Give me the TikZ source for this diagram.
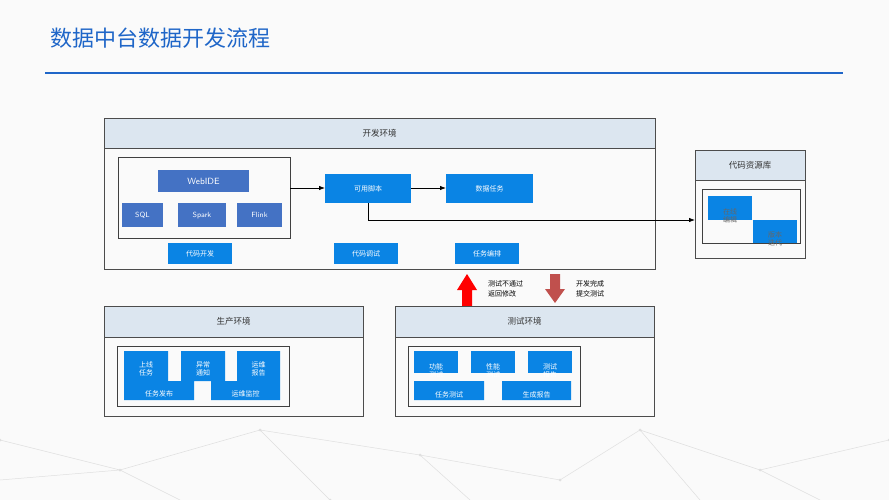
\documentclass[tikz,border=0pt]{standalone}
\usepackage{fontspec}
\newfontfamily\cjk{Noto Sans CJK SC}
\usetikzlibrary{arrows.meta}
\definecolor{titleblue}{RGB}{31,102,200}
\definecolor{headfill}{RGB}{220,230,240}
\definecolor{boxblue}{RGB}{10,132,228}
\definecolor{ideblue}{RGB}{68,114,196}
\definecolor{downred}{RGB}{192,80,77}
\tikzset{
  panel/.style={draw=black!70,fill=white!96!gray,line width=0.8pt},
  head/.style={draw=black!70,fill=headfill,line width=0.8pt},
  inner/.style={draw=black!75,line width=0.9pt},
  blk/.style={fill=boxblue,draw=none},
  txt/.style={font=\cjk\fontsize{7}{8}\selectfont,text=white,align=center,inner sep=0pt},
  htxt/.style={font=\cjk\fontsize{8.5}{10}\selectfont,text=black!80,inner sep=0pt},
  net/.style={gray!25,line width=0.5pt}
}
\begin{document}
\begin{tikzpicture}[x=1pt,y=-1pt]
\useasboundingbox (0,0) rectangle (889,500);
\fill[gray!4] (0,0) rectangle (889,500);
% faint background network
\foreach \a/\b in {0/440,120/470,260/430,330/500,420/455,560/480,640/430,760/470,889/440}
  \fill[gray!25] (\a,\b) circle (1.5);
\draw[net] (0,440) -- (120,470) -- (260,430) -- (330,500) (260,430) -- (420,455) -- (560,480) -- (640,430) -- (760,470) -- (889,440)
  (120,470) -- (180,500) (420,455) -- (470,500) (640,430) -- (700,500) (760,470) -- (820,500) (0,480) -- (120,470);

% title
\node[anchor=west,text=titleblue,font=\cjk\fontsize{22}{26}\selectfont,inner sep=0pt] (title) at (50,38) {数据中台数据开发流程};
\draw[titleblue,line width=2.5pt] (45,73) -- (843,73);

% development environment
\draw[panel] (104,118) rectangle (655,269);
\draw[head] (104,118) rectangle (655,148);
\node[htxt] (devh) at (379.5,133) {开发环境};
\draw[inner] (118,157) rectangle (290,238);
\fill[ideblue] (158,170) rectangle (249,192);
\node[txt,font=\fontsize{9}{10}\sffamily] (ide) at (203.5,181) {WebIDE};
\foreach \x/\w/\t in {122/41/SQL,178/48/Spark,237/45/Flink}{
  \fill[ideblue] (\x,203) rectangle ++(\w,24);
  \node[txt,font=\fontsize{7.5}{9}\sffamily,text depth=0pt] at (\x+\w/2,215) {\t};
}
\coordinate (ideright) at (290,188);
\fill[blk] (325,174) rectangle (411,203);
\node[txt] (script) at (368,188.5) {可用脚本};
\fill[blk] (446,174) rectangle (533,203);
\node[txt] (task) at (489.5,188.5) {数据任务};
\foreach \x/\t in {168/代码开发,334/代码调试,455/任务编排}{
  \fill[blk] (\x,243) rectangle ++(64,21);
  \node[txt] at (\x+32,253.5) {\t};
}
\coordinate (scriptl) at (325,188);
\coordinate (scriptr) at (411,188);
\coordinate (taskl) at (446,188);
\coordinate (scriptb) at (368,203);
\draw[-{Latex[length=6pt]},line width=0.8pt] (ideright) -- (scriptl);
\draw[-{Latex[length=6pt]},line width=0.8pt] (scriptr) -- (taskl);

% code repository
\draw[panel] (695,150) rectangle (805,258);
\draw[head] (695,150) rectangle (805,180);
\node[htxt] (repoh) at (750,165) {代码资源库};
\draw[inner] (702,189) rectangle (800,243);
\coordinate (repol) at (695,220);
\draw[-{Latex[length=6pt]},line width=0.8pt] (scriptb) |- (repol);
\fill[blk] (708,196) rectangle (752,220);
\node[txt,text=black!60] (edit) at (730,216) {在线\\编辑};
\fill[blk] (753,220) rectangle (797,243);
\node[txt,text=black!60] (ver) at (775,239) {版本\\迭代};

% test/development arrows
\fill[red] (462,306) -- (462,290) -- (457,290) -- (467,274) -- (477,290) -- (472,290) -- (472,306) -- cycle;
\fill[downred] (550,274) -- (560,274) -- (560,289) -- (565,289) -- (555,303) -- (545,289) -- (550,289) -- cycle;
\node[anchor=west,font=\cjk\fontsize{7}{10}\selectfont,align=left,inner sep=0pt] (back) at (488,289) {测试不通过\\返回修改};
\node[anchor=west,font=\cjk\fontsize{7}{10}\selectfont,align=left,inner sep=0pt] (submit) at (576,289) {开发完成\\提交测试};

% production environment
\draw[panel] (104,306) rectangle (363,416);
\draw[head] (104,306) rectangle (363,337);
\node[htxt] (prodh) at (233.5,321.5) {生产环境};
\draw[inner] (117,346) rectangle (289,406);
\fill[blk] (124,351) rectangle (168,381) (181,351) rectangle (225,381) (237,351) rectangle (280,381)
  (124,381) rectangle (194,400) (211,381) rectangle (280,400);
\node[txt] (online) at (146,369) {上线\\任务};
\node[txt] (alarm) at (203,369) {异常\\通知};
\node[txt] (report) at (258.5,369) {运维\\报告};
\node[txt] (publish) at (159,394) {任务发布};
\node[txt] (monitor) at (245.5,394) {运维监控};

% test environment
\draw[panel] (395,306) rectangle (654,416);
\draw[head] (395,306) rectangle (654,337);
\node[htxt] (testh) at (524.5,321.5) {测试环境};
\draw[inner] (408,346) rectangle (580,406);
\foreach \x/\t in {414/功能测试,471/性能测试,528/测试报告}{
  \fill[blk] (\x,351) rectangle ++(44,22);
}
\begin{scope}
\clip (400,340) rectangle (600,376);
\node[txt] (func) at (436,371) {功能\\测试};
\node[txt] (perf) at (493,371) {性能\\测试};
\node[txt] (trep) at (550,371) {测试\\报告};
\end{scope}
\fill[blk] (414,381) rectangle (484,400) (502,381) rectangle (571,400);
\node[txt] (ttask) at (449,395) {任务测试};
\node[txt] (gen) at (536.5,395) {生成报告};
\end{tikzpicture}
\end{document}
